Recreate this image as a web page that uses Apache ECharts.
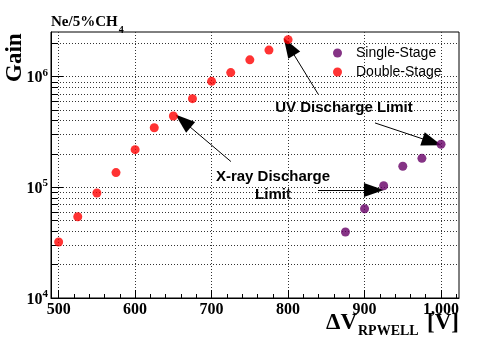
<!DOCTYPE html>
<html>
<head>
<meta charset="utf-8">
<script src="https://cdn.jsdelivr.net/npm/echarts@6/dist/echarts.min.js"></script>
<style>
  html, body { margin: 0; padding: 0; background: #fff; }
  #chart { width: 504px; height: 341px; }
</style>
</head>
<body>
<div id="chart"></div>
<script>
// Gain vs ΔV_RPWELL, Ne/5%CH4
const doubleVolt = [500, 525, 550, 575, 600, 625, 650, 675, 700, 725, 750, 775, 800]
const doubleGain = [3.21e4, 5.43e4, 8.89e4, 1.36e5, 2.19e5, 3.46e5, 4.41e5, 6.33e5, 9.08e5, 1.09e6, 1.42e6, 1.74e6, 2.16e6]
const singleVolt = [875, 900, 925, 950, 975, 1000]
const singleGain = [3.95e4, 6.41e4, 1.035e5, 1.55e5, 1.83e5, 2.45e5]

const xMajorTicks = [500, 600, 700, 800, 900, 1000]
const xMinorTicks = [520, 540, 560, 580, 620, 640, 660, 680, 720, 740, 760, 780, 820, 840, 860, 880, 920, 940, 960, 980, 1020]
const yMajorTicks = [1e4, 1e5, 1e6]
const yMinorTicks = [2e4, 3e4, 4e4, 5e4, 6e4, 7e4, 8e4, 9e4, 2e5, 3e5, 4e5, 5e5, 6e5, 7e5, 8e5, 9e5, 2e6]
const yGridLines = yMinorTicks.concat(yMajorTicks)

// annotation arrows, in data coordinates [[from], [to]]
const arrows = [
  [[839.5, 6.93e5], [801.2, 1.87e6]],
  [[913.7, 3.82e5], [988.2, 2.57e5]],
  [[725.3, 1.71e5], [662.6, 3.98e5]],
  [[839.1, 9.47e4], [912.3, 9.47e4]],
]

const xMin = 490, xMax = 1023.5
const yMin = 1e4, yMax = 2.535e6

const serif = "'Liberation Serif', 'DejaVu Serif', serif"
const sans = "'Liberation Sans', Arial, sans-serif"

const chart = echarts.init(document.getElementById("chart"), null, { renderer: "canvas" })

const grid = { left: 51, top: 32, width: 408, height: 266 }
const gridLine = { show: true, lineStyle: { color: "#333", width: 1, type: [1, 2] } }

chart.setOption({
  backgroundColor: "#fff",
  animation: false,
  grid: { ...grid, show: true, borderColor: "#000", borderWidth: 1, backgroundColor: "transparent" },
  legend: {
    orient: "vertical",
    left: 328,
    top: 41,
    itemWidth: 9,
    itemHeight: 9,
    itemGap: 5,
    icon: "circle",
    textStyle: { fontFamily: sans, fontSize: 14, color: "#000", padding: [0, 0, 0, 9] },
    data: ["Single-Stage", "Double-Stage"],
  },
  xAxis: [
    {
      type: "value",
      min: xMin, max: xMax,
      axisLine: { show: true, lineStyle: { color: "#000" } },
      axisTick: { show: true, inside: true, length: 8, customValues: xMajorTicks, lineStyle: { color: "#000" } },
      axisLabel: {
        customValues: xMajorTicks, margin: 4,
        fontFamily: serif, fontWeight: "bold", fontSize: 16, color: "#000",
      },
      splitLine: gridLine,
    },
    {
      type: "value",
      min: xMin, max: xMax,
      position: "bottom",
      axisLine: { show: false },
      axisTick: { show: true, inside: true, length: 4, customValues: xMinorTicks, lineStyle: { color: "#000" } },
      axisLabel: { show: false },
      splitLine: { show: false },
    },
  ],
  yAxis: [
    {
      type: "log",
      logBase: 10,
      min: yMin, max: yMax,
      axisLine: { show: true, lineStyle: { color: "#000" } },
      axisTick: { show: true, inside: true, length: 12, customValues: yMajorTicks, lineStyle: { color: "#000" } },
      axisLabel: {
        customValues: yMajorTicks, margin: 3,
        formatter: (v) => "{b|10}{s|" + Math.round(Math.log10(v)) + "}",
        rich: {
          b: { fontFamily: serif, fontWeight: "bold", fontSize: 16, color: "#000", verticalAlign: "bottom" },
          s: { fontFamily: serif, fontWeight: "bold", fontSize: 11, color: "#000", verticalAlign: "bottom", padding: [0, 0, 8, 0] },
        },
      },
      splitLine: { show: false },
    },
    {
      type: "log",
      logBase: 10,
      min: yMin, max: yMax,
      position: "left",
      axisLine: { show: false },
      axisTick: { show: true, inside: true, length: 7, customValues: yGridLines, lineStyle: { color: "#000" } },
      axisLabel: { show: false },
      splitLine: gridLine,
    },
  ],
  graphic: [
    {
      type: "text", left: 51, top: 15,
      style: {
        text: "{a|Ne/5%CH}{s|4}",
        rich: {
          a: { fontFamily: serif, fontWeight: "bold", fontSize: 15, color: "#000", verticalAlign: "top" },
          s: { fontFamily: serif, fontWeight: "bold", fontSize: 10, color: "#000", verticalAlign: "top", padding: [10, 0, 0, 1] },
        },
      },
    },
    {
      type: "text", x: 4, y: 82, rotation: Math.PI / 2,
      style: { text: "Gain", fontFamily: serif, fontWeight: "bold", fontSize: 23, fill: "#000" },
    },
    {
      type: "text", x: 326, y: 312,
      style: { text: "ΔV", fontFamily: serif, fontWeight: "bold", fontSize: 23, fill: "#000" },
    },
    {
      type: "text", x: 358, y: 324,
      style: { text: "RPWELL", fontFamily: serif, fontWeight: "bold", fontSize: 14, fill: "#000" },
    },
    {
      type: "text", x: 459, y: 312,
      style: { text: "[V]", align: "right", fontFamily: serif, fontWeight: "bold", fontSize: 23, fill: "#000" },
    },
    {
      type: "text", x: 344, y: 108,
      style: { text: "UV Discharge Limit", align: "center", verticalAlign: "middle", fontFamily: sans, fontWeight: "bold", fontSize: 15, fill: "#000" },
    },
    {
      type: "text", x: 273, y: 186,
      style: { text: "X-ray Discharge\nLimit", align: "center", verticalAlign: "middle", lineHeight: 18, fontFamily: sans, fontWeight: "bold", fontSize: 15, fill: "#000" },
    },
  ],
  series: [
    {
      name: "Single-Stage",
      type: "scatter",
      xAxisIndex: 0, yAxisIndex: 0,
      symbolSize: 9,
      itemStyle: { color: "#660066" },
      data: singleVolt.map((v, i) => [v, singleGain[i]]),
      z: 5,
    },
    {
      name: "Double-Stage",
      type: "scatter",
      xAxisIndex: 0, yAxisIndex: 0,
      symbolSize: 9,
      itemStyle: { color: "#ff0000" },
      data: doubleVolt.map((v, i) => [v, doubleGain[i]]),
      z: 5,
      markLine: {
        silent: true,
        animation: false,
        symbol: ["none", "triangle"],
        symbolSize: [14, 20],
        lineStyle: { color: "#000", width: 1, type: "solid" },
        itemStyle: { color: "#000" },
        label: { show: false },
        emphasis: { disabled: true },
        data: arrows.map(([a, b]) => [{ coord: a }, { coord: b }]),
      },
    },
  ],
})
</script>
</body>
</html>
